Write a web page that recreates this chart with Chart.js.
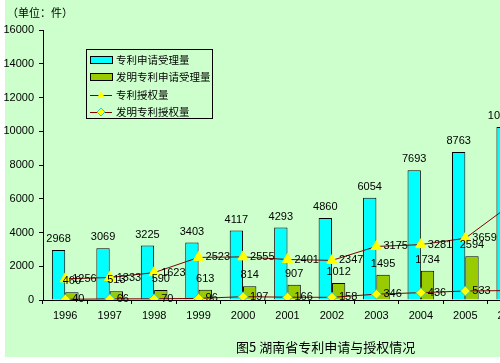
<!DOCTYPE html>
<html>
<head>
<meta charset="utf-8">
<script src="https://cdn.jsdelivr.net/npm/chart.js@4/dist/chart.umd.min.js"></script>
<style>
  body { margin: 0; background: #fff; overflow: hidden; width: 500px; height: 363px; }
  #bg { position: absolute; left: 5px; top: 0; width: 540px; height: 357px; background: #CCFFCC; }
  #wrap { position: absolute; left: 0; top: 0; }
  .txt { position: absolute; font-family: "Noto Sans CJK SC", sans-serif; color: #000; white-space: nowrap; }
</style>
</head>
<body>
<div id="bg"></div>
<div id="wrap"><canvas id="myChart" width="540" height="357"></canvas></div>
<div class="txt" style="left:7px; top:4px; font-size:11px;">（单位：件）</div>
<div class="txt" style="left:236px; top:337px; font-size:13px;">图5&nbsp;湖南省专利申请与授权情况</div>
<script>
const years = ['1996', '1997', '1998', '1999', '2000', '2001', '2002', '2003', '2004', '2005', '2006'];
const applied = [2968, 3069, 3225, 3403, 4117, 4293, 4860, 6054, 7693, 8763, 10249];
const inventionApplied = [460, 513, 590, 613, 814, 907, 1012, 1495, 1734, 2594, 3000];
const granted = [1256, 1333, 1623, 2523, 2555, 2401, 2347, 3175, 3281, 3659, 5608];
const inventionGranted = [40, 66, 70, 96, 197, 166, 158, 346, 436, 533, 560];
const yTicks = [0, 2000, 4000, 6000, 8000, 10000, 12000, 14000, 16000];

const numFont = '11px "Liberation Sans", Arial, sans-serif';

// numbers next to bars and points
const valueLabels = {
  id: 'valueLabels',
  afterDatasetsDraw(chart) {
    const ctx = chart.ctx;
    ctx.save();
    ctx.font = numFont;
    ctx.fillStyle = '#000';
    chart.data.datasets.forEach((ds, i) => {
      const meta = chart.getDatasetMeta(i);
      meta.data.forEach((el, j) => {
        const v = ds.data[j];
        if (ds.type === 'bar') {
          ctx.textAlign = 'center';
          ctx.textBaseline = 'middle';
          ctx.fillText(v, el.x, el.y - 11);
        } else {
          ctx.textAlign = 'left';
          ctx.textBaseline = 'middle';
          ctx.fillText(v, el.x + 7, el.y);
        }
      });
    });
    ctx.restore();
  }
};

// legend box inside the plot
const boxLegend = {
  id: 'boxLegend',
  afterDraw(chart) {
    const ctx = chart.ctx;
    const x0 = 86, y0 = 49, w = 126, h = 69;
    ctx.save();
    ctx.fillStyle = '#CCFFCC';
    ctx.fillRect(x0, y0, w, h);
    ctx.strokeStyle = '#000';
    ctx.lineWidth = 1;
    ctx.strokeRect(x0 + 0.5, y0 + 0.5, w, h);
    const rows = [60, 77, 95, 112];
    chart.data.datasets.forEach((ds, i) => {
      const y = rows[i];
      if (ds.type === 'bar') {
        ctx.fillStyle = ds.backgroundColor;
        ctx.fillRect(91, y - 3, 21, 6);
        ctx.strokeStyle = '#000';
        ctx.strokeRect(90.5, y - 3.5, 22, 7);
      } else {
        ctx.strokeStyle = ds.borderColor;
        ctx.beginPath();
        ctx.moveTo(90, y + 0.5);
        ctx.lineTo(112, y + 0.5);
        ctx.stroke();
        ctx.fillStyle = ds.pointBackgroundColor;
        ctx.strokeStyle = ds.pointBorderColor;
        ctx.beginPath();
        if (ds.pointStyle === 'triangle') {
          ctx.moveTo(101, y - 4);
          ctx.lineTo(105, y + 3);
          ctx.lineTo(97, y + 3);
          ctx.closePath();
          ctx.fill();
        } else {
          ctx.moveTo(101, y - 4);
          ctx.lineTo(105, y);
          ctx.lineTo(101, y + 4);
          ctx.lineTo(97, y);
          ctx.closePath();
          ctx.fill();
          ctx.stroke();
        }
      }
      ctx.fillStyle = '#000';
      ctx.font = '10.5px "Noto Sans CJK SC", sans-serif';
      ctx.textAlign = 'left';
      ctx.textBaseline = 'middle';
      ctx.fillText(ds.label, 116, y);
    });
    ctx.restore();
  }
};

new Chart(document.getElementById('myChart').getContext('2d'), {
  data: {
    labels: years,
    datasets: [
      {
        type: 'bar',
        label: '专利申请受理量',
        data: applied,
        backgroundColor: '#00FFFF',
        borderColor: '#000',
        borderWidth: 1,
        categoryPercentage: 0.6,
        barPercentage: 1.0,
        order: 2
      },
      {
        type: 'bar',
        label: '发明专利申请受理量',
        data: inventionApplied,
        backgroundColor: '#99CC00',
        borderColor: '#000',
        borderWidth: 1,
        categoryPercentage: 0.6,
        barPercentage: 1.0,
        order: 2
      },
      {
        type: 'line',
        label: '专利授权量',
        data: granted,
        borderColor: '#800000',
        borderWidth: 1,
        tension: 0,
        pointStyle: 'triangle',
        pointRadius: 6,
        pointBackgroundColor: '#FFFF00',
        pointBorderColor: '#FFFF00',
        order: 1
      },
      {
        type: 'line',
        label: '发明专利授权量',
        data: inventionGranted,
        borderColor: '#800000',
        borderWidth: 1,
        tension: 0,
        pointStyle: 'rectRot',
        pointRadius: 5,
        pointBackgroundColor: '#FFFF00',
        pointBorderColor: '#33CCCC',
        pointBorderWidth: 1,
        order: 0
      }
    ]
  },
  options: {
    responsive: false,
    animation: false,
    layout: { padding: { left: 0, top: 30, right: 8, bottom: 0 } },
    plugins: {
      legend: { display: false },
      tooltip: { enabled: false }
    },
    scales: {
      x: {
        grid: { offset: true, drawOnChartArea: false, tickLength: 4, color: '#000' },
        border: { color: '#000', width: 1 },
        ticks: { color: '#000', font: { family: '"Liberation Sans", Arial, sans-serif', size: 11 }, padding: 5, maxRotation: 0 },
        afterFit(scale) { scale.height = 57; }
      },
      y: {
        min: 0,
        max: 16000,
        afterBuildTicks(scale) { scale.ticks = yTicks.map(v => ({ value: v })); },
        grid: { drawOnChartArea: false, tickLength: 4, color: '#000' },
        border: { color: '#000', width: 1 },
        ticks: {
          color: '#000',
          font: { family: '"Liberation Sans", Arial, sans-serif', size: 11 },
          padding: 5,
          callback: v => String(v)
        },
        afterFit(scale) { scale.width = 43; }
      }
    }
  },
  plugins: [valueLabels, boxLegend]
});
</script>
</body>
</html>
